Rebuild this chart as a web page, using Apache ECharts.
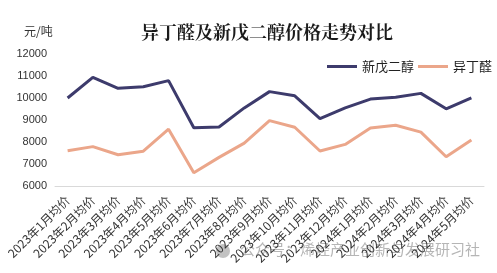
<!DOCTYPE html>
<html><head><meta charset="utf-8">
<script src="https://cdn.jsdelivr.net/npm/echarts@6/dist/echarts.min.js"></script>
<style>html,body{margin:0;padding:0;background:#fff}#c{width:497px;height:273px}</style>
</head><body><div id="c"></div>
<script>
const categories = ['2023年1月均价','2023年2月均价','2023年3月均价','2023年4月均价','2023年5月均价','2023年6月均价','2023年7月均价','2023年8月均价','2023年9月均价','2023年10月均价','2023年11月均价','2023年12月均价','2024年1月均价','2024年2月均价','2024年3月均价','2024年4月均价','2024年5月均价'];
const npgValues = [10000,10940,10440,10510,10790,8650,8680,9550,10290,10100,9060,9550,9950,10030,10210,9510,10010];
const ibaValues = [7600,7790,7420,7580,8580,6600,7300,7950,8970,8670,7590,7890,8640,8760,8450,7330,8090];
const yTicks = {min:6000,max:12000,interval:1000};
const font = '"Noto Sans CJK SC", sans-serif';
const chart = echarts.init(document.getElementById('c'));
chart.setOption({
  animation:false,
  backgroundColor:'#fff',
  title:{text:'异丁醛及新戊二醇价格走势对比',left:262,top:18,textAlign:'center',
    textStyle:{fontFamily:'"Noto Serif CJK SC","Noto Sans CJK SC",serif',fontSize:18,fontWeight:'bold',color:'#1a1a1a'}},
  graphic:[
    {type:'text',left:24,top:25,style:{text:'元/吨',font:'12px '+font,fill:'#333'}},
    {type:'text',left:240,top:242,style:{text:'公众号：烯烃产业创新与发展研习社',font:'15px '+font,fill:'rgba(120,120,120,0.55)'}},
    {type:'circle',shape:{cx:223,cy:251,r:7},style:{fill:'rgba(120,120,120,0.45)'}}
  ],
  legend:{right:0,top:55,itemWidth:30,itemHeight:3,itemGap:4,icon:'rect',
    textStyle:{fontFamily:font,fontSize:13,color:'#222'},
    data:['新戊二醇','异丁醛']},
  grid:{left:55,right:13,top:54,bottom:87},
  xAxis:{type:'category',data:categories,boundaryGap:true,
    axisLine:{lineStyle:{color:'#d9d9d9'}},axisTick:{show:false},
    axisLabel:{rotate:45,interval:0,fontFamily:font,fontSize:12,color:'#333',margin:12}},
  yAxis:{type:'value',min:yTicks.min,max:yTicks.max,interval:yTicks.interval,
    splitLine:{show:false},axisLine:{show:false},axisTick:{show:false},
    axisLabel:{fontFamily:'"Liberation Sans",Arial,sans-serif',fontSize:11,color:'#333',margin:8,formatter:v=>String(v)}},
  series:[
    {name:'新戊二醇',type:'line',data:npgValues,symbol:'none',lineStyle:{width:3,color:'#3d3b6c'},itemStyle:{color:'#3d3b6c'}},
    {name:'异丁醛',type:'line',data:ibaValues,symbol:'none',lineStyle:{width:3,color:'#eba68a'},itemStyle:{color:'#eba68a'}}
  ]
});
</script></body></html>
